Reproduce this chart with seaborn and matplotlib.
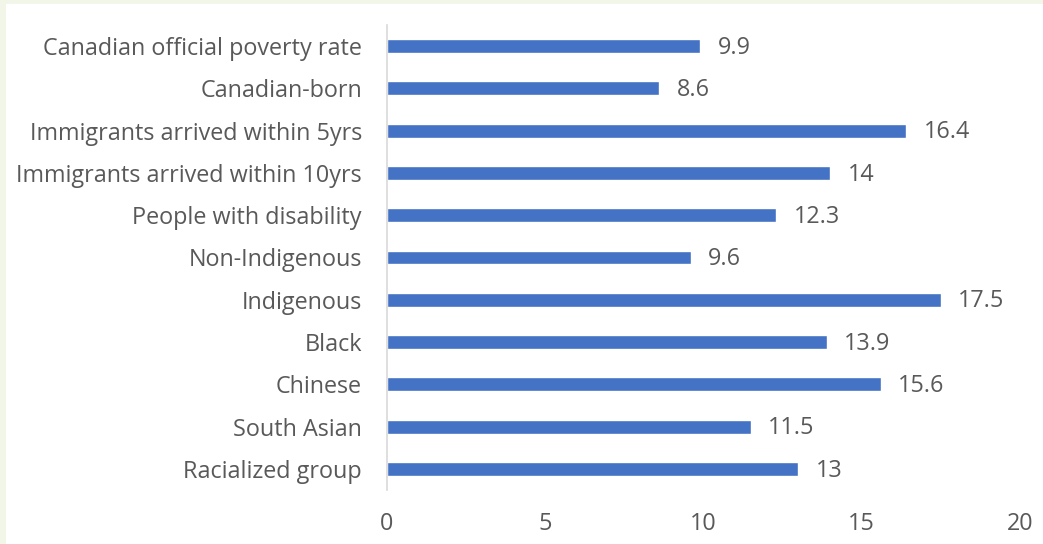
import matplotlib
matplotlib.use("Agg")
import matplotlib.pyplot as plt
import seaborn as sns
import pandas as pd
from matplotlib.patches import Rectangle

categories = [
    "Canadian official poverty rate",
    "Canadian-born",
    "Immigrants arrived within 5yrs",
    "Immigrants arrived within 10yrs",
    "People with disability",
    "Non-Indigenous",
    "Indigenous",
    "Black",
    "Chinese",
    "South Asian",
    "Racialized group",
]
values = [9.9, 8.6, 16.4, 14, 12.3, 9.6, 17.5, 13.9, 15.6, 11.5, 13]
value_labels = ["9.9", "8.6", "16.4", "14", "12.3", "9.6", "17.5", "13.9", "15.6", "11.5", "13"]
x_ticks = [0, 5, 10, 15, 20]

df = pd.DataFrame({"group": categories, "rate": values})

sns.set_theme(style="white")
plt.rcParams["font.family"] = ["Open Sans", "DejaVu Sans"]

text_color = "#595959"
frame_color = "#f1f6e8"
fs = 16.8
fig = plt.figure(figsize=(10.43, 5.44), dpi=100, facecolor="white")
# thin tinted frame along the top and left edges
fig.add_artist(Rectangle((0, 1 - 4 / 544), 1, 4 / 544, transform=fig.transFigure,
                         facecolor=frame_color, edgecolor="none"))
fig.add_artist(Rectangle((0, 0), 6 / 1043, 1, transform=fig.transFigure,
                         facecolor=frame_color, edgecolor="none"))

ax = fig.add_axes([387 / 1043, 1 - 490 / 544, (1020 - 387) / 1043, (490 - 25) / 544])
ax.set_facecolor("none")
sns.barplot(data=df, y="group", x="rate", color="#4472C4", width=0.33,
            saturation=1, ax=ax, orient="h")

for i, (v, lab) in enumerate(zip(values, value_labels)):
    ax.text(v + 0.55, i + 0.04, lab, va="center", ha="left", fontsize=fs, color=text_color)

ax.set_xlim(0, 20)
ax.set_ylim(10.5, -0.5)
ax.set_xticks(x_ticks)
ax.set_xticklabels([str(t) for t in x_ticks], fontsize=fs, color=text_color)
ax.tick_params(axis="x", length=0, pad=16)
ax.tick_params(axis="y", length=0, pad=18, labelsize=fs, labelcolor=text_color)
ax.set_xlabel("")
ax.set_ylabel("")
for s in ["top", "right", "bottom"]:
    ax.spines[s].set_visible(False)
ax.spines["left"].set_color("#d9d9d9")
ax.spines["left"].set_linewidth(1.2)

fig.savefig("out.png", dpi=100)
